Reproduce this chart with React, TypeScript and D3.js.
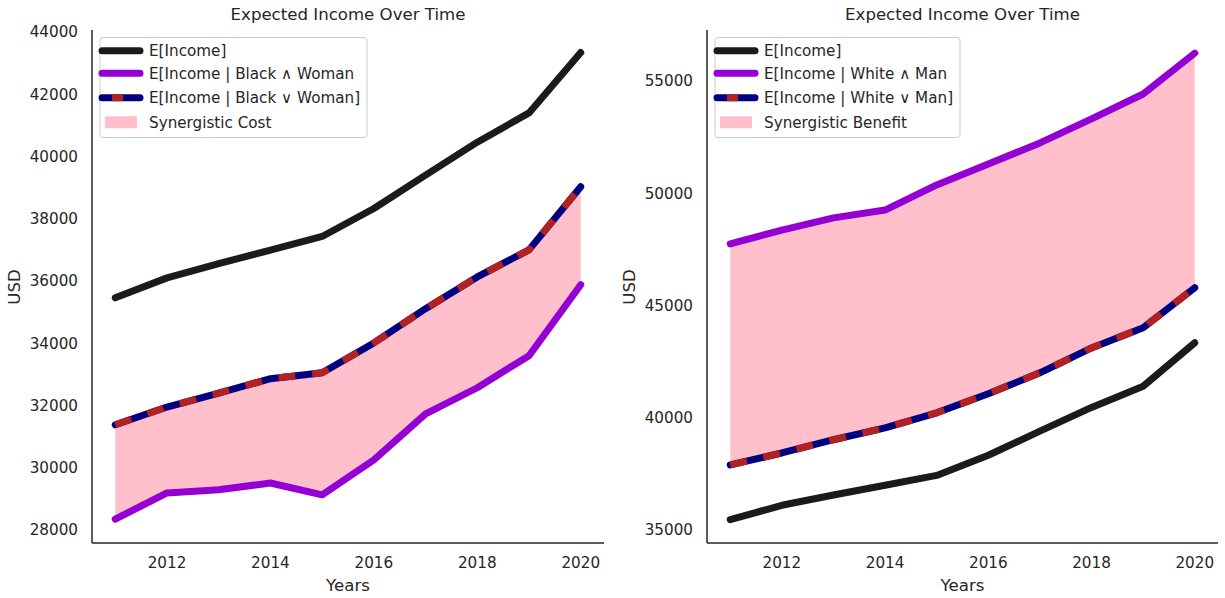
import React from "react";
import * as d3 from "d3";

const years = [2011, 2012, 2013, 2014, 2015, 2016, 2017, 2018, 2019, 2020];
const incomeAll = [35460, 36100, 36560, 36990, 37430, 38330, 39400, 40460, 41400, 43340];
const incomeBlackAndWoman = [28350, 29190, 29290, 29510, 29130, 30250, 31730, 32570, 33600, 35880];
const incomeBlackOrWoman = [31380, 31950, 32400, 32860, 33050, 34010, 35110, 36130, 37000, 39030];
const incomeWhiteAndMan = [47740, 48360, 48900, 49250, 50370, 51300, 52240, 53310, 54420, 56240];
const incomeWhiteOrMan = [37900, 38430, 39020, 39550, 40220, 41070, 42000, 43110, 44010, 45790];
const xTicks = [2012, 2014, 2016, 2018, 2020];
const leftYTicks = [28000, 30000, 32000, 34000, 36000, 38000, 40000, 42000, 44000];
const rightYTicks = [35000, 40000, 45000, 50000, 55000];

const leftLabels = ["E[Income]", "E[Income | Black \u2227 Woman", "E[Income | Black \u2228 Woman]", "Synergistic Cost"];
const rightLabels = ["E[Income]", "E[Income | White \u2227 Man", "E[Income | White \u2228 Man]", "Synergistic Benefit"];

const FONT = "'DejaVu Sans', sans-serif";
const TXT = "#262626";
const BLACK = "#1b1b1b";
const PURPLE = "#9400D3";
const NAVY = "#000080";
const RED = "#B22222";
const PINK = "#FFC0CB";
const LW = 7;
const SMALL = 15.2;
const LARGE = 16.6;

type PanelProps = {
  x0: number;
  x1: number;
  yDomain: [number, number];
  yTicks: number[];
  all: number[];
  andS: number[];
  orS: number[];
  labels: string[];
  legendW: number;
};

function Panel({ x0, x1, yDomain, yTicks, all, andS, orS, labels, legendW }: PanelProps) {
  const top = 30;
  const bottom = 543;
  const x = d3.scaleLinear().domain([2010.55, 2020.45]).range([x0, x1]);
  const y = d3.scaleLinear().domain(yDomain).range([bottom, top]);
  const line = d3
    .line<number>()
    .x((_, i) => x(years[i]))
    .y((d) => y(d));
  const area = d3
    .area<number>()
    .x((_, i) => x(years[i]))
    .y0((_, i) => y(andS[i]))
    .y1((d) => y(d));
  const cx = (x0 + x1) / 2;
  const lx = x0 + 8;
  const rows = [50.7, 73.3, 97.7, 122.3];
  return (
    <g>
      <path d={area(orS) || ""} fill={PINK} stroke="none" />
      <path d={line(all) || ""} fill="none" stroke={BLACK} strokeWidth={LW} strokeLinecap="round" strokeLinejoin="round" />
      <path d={line(andS) || ""} fill="none" stroke={PURPLE} strokeWidth={LW} strokeLinecap="round" strokeLinejoin="round" />
      <path d={line(orS) || ""} fill="none" stroke={NAVY} strokeWidth={LW} strokeLinecap="round" strokeLinejoin="round" />
      <path d={line(orS) || ""} fill="none" stroke={RED} strokeWidth={LW} strokeLinecap="butt" strokeLinejoin="round" strokeDasharray="17 17" />
      <line x1={x0} x2={x0} y1={top} y2={bottom} stroke={TXT} strokeWidth={1.5} />
      <line x1={x0} x2={x1} y1={bottom} y2={bottom} stroke={TXT} strokeWidth={1.5} />
      {yTicks.map((t) => (
        <text key={t} x={x0 - 14} y={y(t)} dy="0.35em" textAnchor="end" fontFamily={FONT} fontSize={SMALL} fill={TXT}>
          {t}
        </text>
      ))}
      {xTicks.map((t) => (
        <text key={t} x={x(t)} y={563} dy="0.35em" textAnchor="middle" fontFamily={FONT} fontSize={SMALL} fill={TXT}>
          {t}
        </text>
      ))}
      <text x={cx} y={585} dy="0.35em" textAnchor="middle" fontFamily={FONT} fontSize={LARGE} fill={TXT}>
        Years
      </text>
      <text transform={`translate(${x0 - 78},${287}) rotate(-90)`} dy="0.35em" textAnchor="middle" fontFamily={FONT} fontSize={LARGE} fill={TXT}>
        USD
      </text>
      <text x={cx} y={14} dy="0.35em" textAnchor="middle" fontFamily={FONT} fontSize={LARGE} fill={TXT}>
        Expected Income Over Time
      </text>
      <rect x={lx} y={37.5} width={legendW} height={100} rx={3} fill="#ffffff" fillOpacity={0.8} stroke="#cccccc" strokeWidth={1} />
      <line x1={lx + 2} x2={lx + 40} y1={rows[0]} y2={rows[0]} stroke={BLACK} strokeWidth={LW} strokeLinecap="round" />
      <line x1={lx + 2} x2={lx + 40} y1={rows[1]} y2={rows[1]} stroke={PURPLE} strokeWidth={LW} strokeLinecap="round" />
      <line x1={lx + 2} x2={lx + 40} y1={rows[2]} y2={rows[2]} stroke={NAVY} strokeWidth={LW} strokeLinecap="round" />
      <line x1={lx + 12} x2={lx + 23} y1={rows[2]} y2={rows[2]} stroke={RED} strokeWidth={LW} strokeLinecap="butt" />
      <rect x={lx + 5} y={rows[3] - 6} width={32} height={12} fill={PINK} />
      {labels.map((l, i) => (
        <text key={l} x={lx + 49} y={rows[i]} dy="0.35em" fontFamily={FONT} fontSize={SMALL} fill={TXT}>
          {l}
        </text>
      ))}
    </g>
  );
}

export default function App() {
  return (
    <svg width={1225} height={598} style={{ display: "block", position: "absolute", left: 0, top: 0 }}>
      <rect width={1225} height={598} fill="#ffffff" />
      <Panel
        x0={92}
        x1={604}
        yDomain={[27582, 44064]}
        yTicks={leftYTicks}
        all={incomeAll}
        andS={incomeBlackAndWoman}
        orS={incomeBlackOrWoman}
        labels={leftLabels}
        legendW={267}
      />
      <Panel
        x0={707}
        x1={1218}
        yDomain={[34420, 57270]}
        yTicks={rightYTicks}
        all={incomeAll}
        andS={incomeWhiteAndMan}
        orS={incomeWhiteOrMan}
        labels={rightLabels}
        legendW={245}
      />
    </svg>
  );
}
